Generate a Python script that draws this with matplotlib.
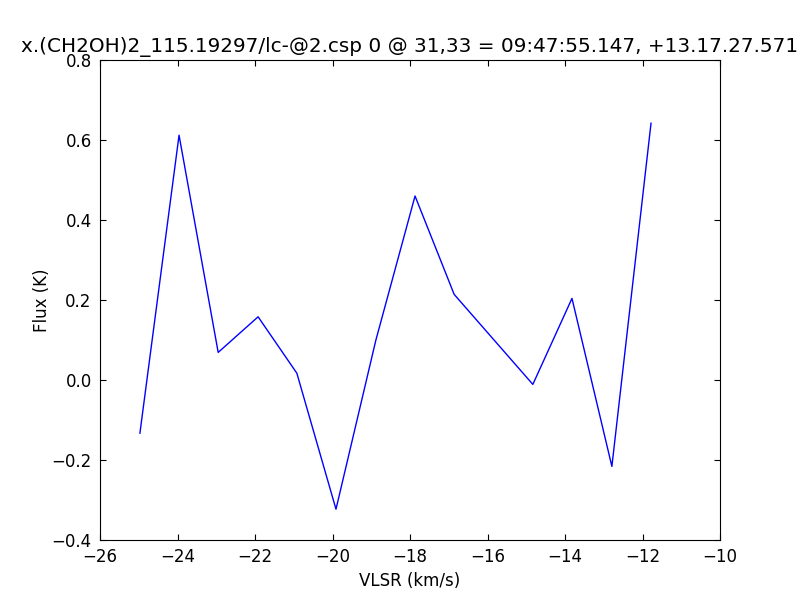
import matplotlib
matplotlib.use('Agg')
import matplotlib.pyplot as plt

# Spectrum
vlsr = [-24.97, -23.96, -22.95, -21.92, -20.92, -19.91, -18.88, -17.87,
        -16.86, -14.83, -13.82, -12.79, -11.78]
flux = [-0.133, 0.612, 0.069, 0.158, 0.017, -0.323, 0.100, 0.460,
        0.214, -0.011, 0.204, -0.216, 0.642]

title = 'x.(CH2OH)2_115.19297/lc-@2.csp 0 @ 31,33 = 09:47:55.147, +13.17.27.571'

plt.rcParams['font.family'] = 'DejaVu Sans'
plt.rcParams['font.size'] = 12
plt.rcParams['xtick.direction'] = 'in'
plt.rcParams['ytick.direction'] = 'in'
plt.rcParams['xtick.top'] = True
plt.rcParams['ytick.right'] = True
plt.rcParams['xtick.major.size'] = 4
plt.rcParams['ytick.major.size'] = 4
plt.rcParams['xtick.major.pad'] = 6
plt.rcParams['ytick.major.pad'] = 6

fig = plt.figure(figsize=(8, 6), dpi=100)
ax = fig.add_axes([0.125, 0.1, 0.775, 0.8])
ax.plot(vlsr, flux, color='blue', linewidth=1.0)
ax.set_xlim(-26, -10)
ax.set_ylim(-0.4, 0.8)
ax.set_xticks(range(-26, -9, 2))
ax.set_yticks([-0.4, -0.2, 0.0, 0.2, 0.4, 0.6, 0.8])
ax.set_yticklabels(['\u22120.4', '\u22120.2', '0.0', '0.2', '0.4', '0.6', '0.8'])
ax.set_xlabel('VLSR (km/s)')
ax.set_ylabel('Flux (K)', labelpad=0.5)
ax.set_title(title, fontsize=14.4)

fig.savefig('out.png', dpi=100)
